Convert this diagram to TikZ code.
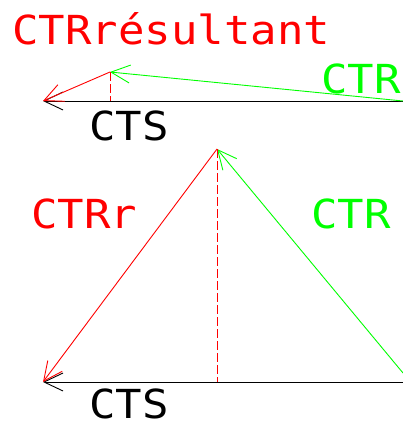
\documentclass[tikz,border=0pt]{standalone}
\usepackage{fontspec}
\newfontfamily\cadfont[FakeStretch=1.1]{DejaVu Sans Mono}
\usetikzlibrary{arrows.meta}
\definecolor{cadred}{RGB}{255,0,0}
\definecolor{cadgreen}{RGB}{0,255,0}

\begin{document}
\begin{tikzpicture}[
  x=1pt, y=-1pt,
  vec/.style={line width=0.9pt, -{Straight Barb[length=19pt, width=18pt]}},
  proj/.style={draw=cadred, line width=1pt, dash pattern=on 9pt off 3pt},
  lbl/.style={anchor=base west, inner sep=0pt, font=\cadfont\fontsize{40}{40}\selectfont}
]
  \clip (0,0) rectangle (403,423);

  % upper figure
  \coordinate (s0) at (403,101);
  \coordinate (t0) at (43,101);
  \coordinate (a0) at (110,72);
  \coordinate (f0) at (110,101);

  \node[lbl, text=cadred]   (res)  at (12,44)  {CTRrésultant};
  \node[lbl, text=cadgreen] (ctr0) at (321,93) {CTR};
  \node[lbl]                (cts0) at (89,140) {CTS};

  \draw[vec, black]    (s0) -- (t0);
  \draw[vec, cadgreen] (s0) -- (a0);
  \draw[vec, cadred]   (a0) -- (t0);
  \draw[proj] (a0) -- (f0);

  % lower figure
  \coordinate (s1) at (403,382);
  \coordinate (g1) at (403,373);
  \coordinate (t1) at (43,382);
  \coordinate (a1) at (217,149);
  \coordinate (f1) at (217,382);

  \node[lbl, text=cadred]   (ctrr) at (31,228)  {CTRr};
  \node[lbl, text=cadgreen] (ctr1) at (311,228) {CTR};
  \node[lbl]                (cts1) at (89,418)  {CTS};

  \draw[vec, black]    (s1) -- (t1);
  \draw[vec, cadgreen] (g1) -- (a1);
  \draw[vec, cadred]   (a1) -- (t1);
  \draw[proj] (a1) -- (f1);
\end{tikzpicture}
\end{document}
